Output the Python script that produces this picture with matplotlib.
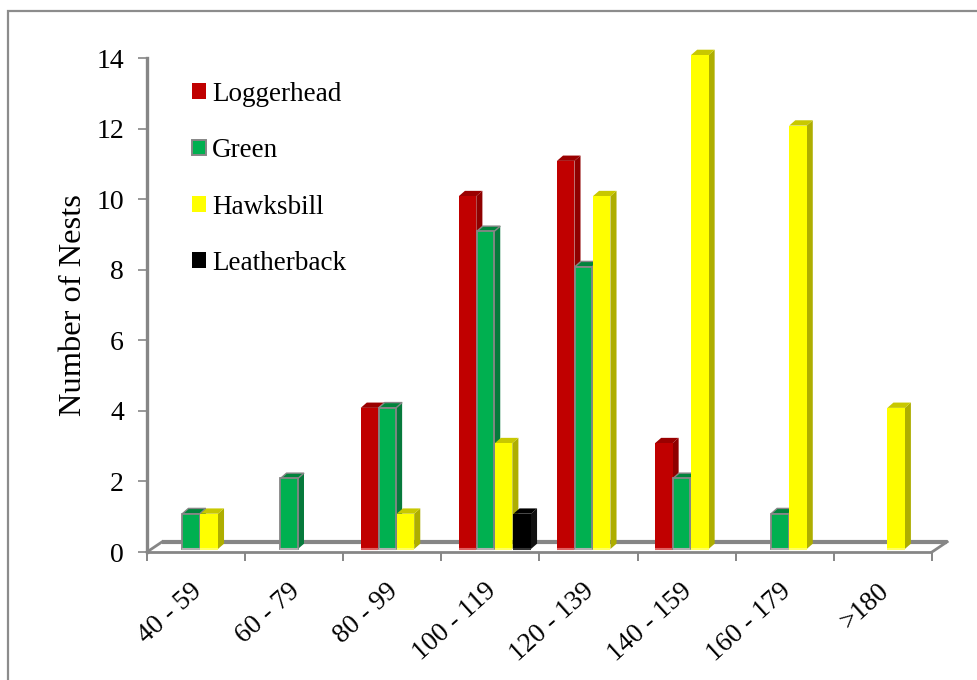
#!/usr/bin/env python3
# -*- coding: utf-8 -*-
import matplotlib
matplotlib.use("Agg")
import matplotlib.pyplot as plt
from matplotlib.patches import Patch, Polygon, Rectangle
from matplotlib.transforms import ScaledTranslation

plt.rcParams['font.family'] = ['Liberation Serif', 'DejaVu Serif']

categories = ['40 - 59', '60 - 79', '80 - 99', '100 - 119', '120 - 139', '140 - 159', '160 - 179', '>180']
loggerhead = [0, 0, 4, 10, 11, 3, 0, 0]
green = [1, 2, 4, 9, 8, 2, 1, 0]
hawksbill = [1, 0, 1, 3, 10, 14, 12, 4]
leatherback = [0, 0, 0, 1, 0, 0, 0, 0]

W, H = 978, 680
GRAY = '#868686'

fig = plt.figure(figsize=(W / 100, H / 100), dpi=100)

# outer chart frame, runs off the right and bottom of the picture
fig.add_artist(Rectangle((8 / W, -0.05), 1.05, 1.05 - 11 / H, transform=fig.transFigure,
                         fill=False, ec='#8c8c8c', lw=1.6))

ax = fig.add_axes([147 / W, 1 - 552 / H, (932 - 147) / W, (552 - 58) / H])
ax.set_xlim(0, 8)
ax.set_ylim(0, 14)
ax.patch.set_visible(False)

# fake 3D depth of the excel chart, in data units
dx, dy = 0.062, 0.15
lift = 0.085
floor_dx, floor_dy = 0.155, 0.29

series = [
    ('Loggerhead', loggerhead, 0.178, '#c00000', '#8f0000', '#9a0000', '#c00000', '#e06060'),
    ('Green', green, 0.36, '#00b050', '#067a3c', '#00843c', GRAY, '#b0b0b0'),
    ('Hawksbill', hawksbill, 0.545, '#ffff00', '#aeae00', '#c8c800', '#ffff00', '#ffff60'),
    ('Leatherback', leatherback, 0.735, '#000000', '#111111', '#000000', '#000000', '#333333'),
]
width = 0.178

# floor
ax.plot([floor_dx, 8 + floor_dx], [floor_dy, floor_dy], color=GRAY, lw=3, clip_on=False, zorder=1,
        solid_capstyle='butt')
ax.plot([0, 8], [0, 0], color=GRAY, lw=2, clip_on=False, zorder=1, solid_capstyle='butt')
ax.plot([0, floor_dx], [0, floor_dy], color=GRAY, lw=2, clip_on=False, zorder=1)
ax.plot([8, 8 + floor_dx], [0, floor_dy], color=GRAY, lw=2, clip_on=False, zorder=1)

z = 3
for name, values, offset, front, side, cap, edge, base in series:
    for i, v in enumerate(values):
        if v == 0:
            continue
        x0 = i + offset
        x1 = x0 + width
        y0 = lift
        y1 = v + lift
        ax.add_patch(Polygon([(x1, y0), (x1 + dx, y0 + dy), (x1 + dx, y1 + dy), (x1, y1)],
                             fc=side, ec='none', clip_on=False, zorder=z))
        ax.add_patch(Polygon([(x0, y1), (x0 + dx, y1 + dy), (x1 + dx, y1 + dy), (x1, y1)],
                             fc=cap, ec=edge if name == 'Green' else 'none', lw=1,
                             clip_on=False, zorder=z))
        ax.bar(x0, v, width=width, bottom=y0, align='edge', color=front,
               edgecolor=edge if name == 'Green' else 'none', linewidth=1.3 if name == 'Green' else 0,
               clip_on=False, zorder=z + 0.5)
        ax.plot([x0, x1], [y0, y0], color=base, lw=1.5, clip_on=False, zorder=z + 0.6,
                solid_capstyle='butt')
        z += 1

for s in ['top', 'right', 'bottom']:
    ax.spines[s].set_visible(False)
ax.spines['left'].set_color(GRAY)
ax.spines['left'].set_linewidth(2.4)

ax.set_yticks(range(0, 15, 2))
ax.tick_params(axis='y', length=6.5, width=1.2, color=GRAY, labelsize=20, pad=10)
ax.set_ylabel('Number of Nests', fontsize=23.4, labelpad=6)

ax.set_xticks(range(0, 9))
ax.set_xticklabels([])
ax.tick_params(axis='x', which='major', length=6.5, width=1.4, color=GRAY)
ax.set_xticks([i + 0.5 for i in range(8)], minor=True)
labels = ax.set_xticklabels(categories, minor=True, rotation=42, ha='right', rotation_mode='anchor', fontsize=19.5)
ax.tick_params(axis='x', which='minor', length=0, pad=19)
shift = ScaledTranslation(-6 / 100, 0, fig.dpi_scale_trans)
for lab in labels:
    lab.set_transform(lab.get_transform() + shift)

handles = [Patch(fc=s[3], ec=GRAY if s[0] == 'Green' else s[3], lw=1.4 if s[0] == 'Green' else 0) for s in series]
ax.legend(handles, [s[0] for s in series], loc='upper left', bbox_to_anchor=(0.057, 0.952),
          frameon=False, fontsize=19.5, handlelength=0.52, handleheight=0.52, handletextpad=0.22,
          labelspacing=1.16, borderpad=0, borderaxespad=0)

fig.savefig('out.png', dpi=100)
